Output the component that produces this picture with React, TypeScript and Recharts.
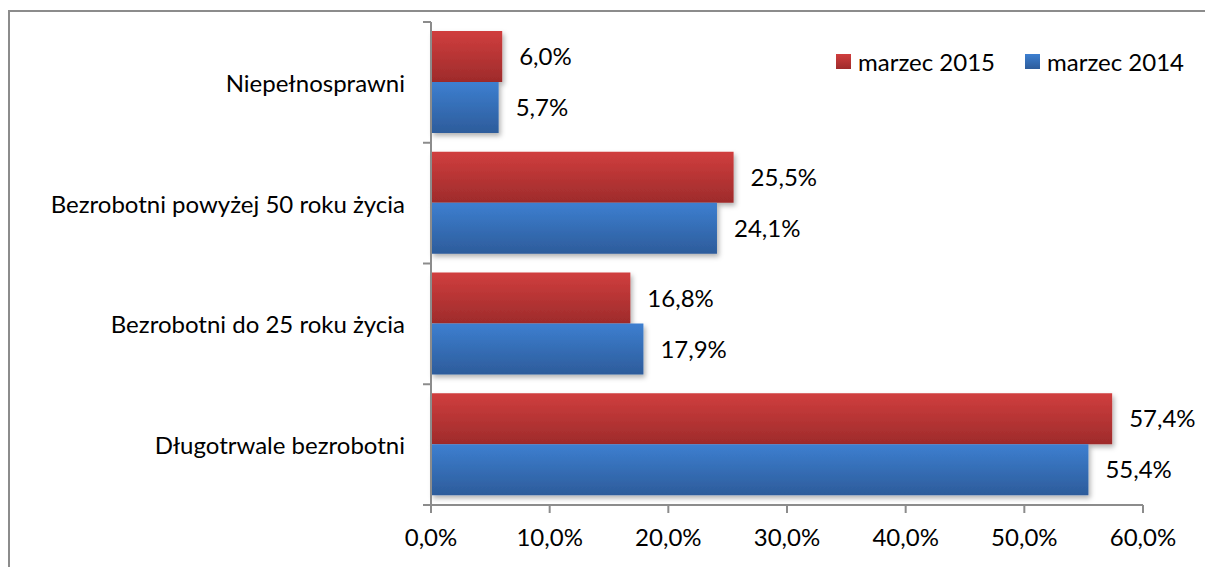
import React from "react";
import {
  BarChart,
  Bar,
  XAxis,
  YAxis,
  LabelList,
  Rectangle,
} from "recharts";

const categories = [
  "Niepełnosprawni",
  "Bezrobotni powyżej 50 roku życia",
  "Bezrobotni do 25 roku życia",
  "Długotrwale bezrobotni",
];
const march2015 = [6.0, 25.5, 16.8, 57.4];
const march2014 = [5.7, 24.1, 17.9, 55.4];
const xTicks = [0, 10, 20, 30, 40, 50, 60];

const seriesNames = ["marzec 2015", "marzec 2014"];

const data = categories.map((name, i) => ({
  name,
  m2015: march2015[i],
  m2014: march2014[i],
}));

const FONT = "Lato, 'Open Sans', sans-serif";
const FS = 24;
const AXIS = "#8c8c8c";
const RED = ["#d03e3e", "#9e2b2b"];
const BLUE = ["#3d7fd0", "#2d5c9b"];

const pct = (v: number) => v.toFixed(1).replace(".", ",") + "%";

function CategoryTick(props: any) {
  const { x, y, payload, index } = props;
  const half = payload && payload.offset ? payload.offset : 60;
  const axisX = x + 26;
  return (
    <g>
      <text
        x={x}
        y={y}
        textAnchor="end"
        dominantBaseline="central"
        fontSize={FS}
        fontFamily={FONT}
        fill="#000"
      >
        {payload.value}
      </text>
      <line x1={axisX - 8} x2={axisX} y1={y - half} y2={y - half} stroke={AXIS} strokeWidth={2} />
      {index === categories.length - 1 && (
        <line x1={axisX - 8} x2={axisX} y1={y + half} y2={y + half} stroke={AXIS} strokeWidth={2} />
      )}
    </g>
  );
}

function ShadowBar(props: any) {
  return <Rectangle {...props} filter="url(#barShadow)" />;
}

function LegendBox() {
  const cols = [RED, BLUE];
  return (
    <div
      style={{
        position: "absolute",
        left: 836,
        top: 47,
        display: "flex",
        alignItems: "center",
        fontFamily: FONT,
        fontSize: FS,
        color: "#000",
        whiteSpace: "nowrap",
      }}
    >
      {seriesNames.map((n, i) => (
        <div key={n} style={{ display: "flex", alignItems: "center", marginRight: i === 0 ? 30 : 0 }}>
          <svg width={15} height={15} style={{ marginRight: 7 }}>
            <defs>
              <linearGradient id={"lg" + i} x1="0" y1="0" x2="0" y2="1">
                <stop offset="0%" stopColor={cols[i][0]} />
                <stop offset="100%" stopColor={cols[i][1]} />
              </linearGradient>
            </defs>
            <rect width={15} height={15} fill={`url(#lg${i})`} />
          </svg>
          <span>{n}</span>
        </div>
      ))}
    </div>
  );
}

export default function App() {
  return (
    <div
      style={{
        position: "absolute",
        left: 0,
        top: 0,
        width: 1205,
        height: 567,
        overflow: "hidden",
        background: "#fff",
      }}
    >
      <div
        style={{
          position: "absolute",
          left: 8,
          top: 10,
          width: 1300,
          height: 700,
          borderLeft: `2px solid ${AXIS}`,
          borderTop: `2px solid ${AXIS}`,
        }}
      />
      <div style={{ position: "absolute", left: 0, top: 0 }}>
        <BarChart
          width={1205}
          height={567}
          data={data}
          layout="vertical"
          margin={{ top: 22, right: 62, bottom: 0, left: 0 }}
          barSize={51}
          barGap={0}
        >
          <defs>
            <linearGradient id="gradRed" x1="0" y1="0" x2="0" y2="1">
              <stop offset="0%" stopColor={RED[0]} />
              <stop offset="100%" stopColor={RED[1]} />
            </linearGradient>
            <linearGradient id="gradBlue" x1="0" y1="0" x2="0" y2="1">
              <stop offset="0%" stopColor={BLUE[0]} />
              <stop offset="100%" stopColor={BLUE[1]} />
            </linearGradient>
            <filter id="barShadow" x="-5%" y="-10%" width="115%" height="130%">
              <feDropShadow dx={2} dy={3} stdDeviation={2.5} floodColor="#000" floodOpacity={0.3} />
            </filter>
          </defs>
          <XAxis
            type="number"
            domain={[0, 60]}
            ticks={xTicks}
            tickFormatter={pct}
            height={62}
            axisLine={{ stroke: AXIS, strokeWidth: 2 }}
            tickLine={{ stroke: AXIS, strokeWidth: 2 }}
            tickSize={8}
            tickMargin={16}
            tick={{ fontSize: FS, fontFamily: FONT, fill: "#000" }}
          />
          <YAxis
            type="category"
            dataKey="name"
            width={431}
            axisLine={{ stroke: AXIS, strokeWidth: 2 }}
            tickLine={false}
            tickSize={0}
            tickMargin={26}
            tick={<CategoryTick />}
            interval={0}
          />
          <Bar
            dataKey="m2015"
            name={seriesNames[0]}
            fill="url(#gradRed)"
            shape={<ShadowBar />}
            isAnimationActive={false}
          >
            <LabelList
              dataKey="m2015"
              position="right"
              offset={17}
              formatter={(v: any) => pct(Number(v))}
              style={{ fontSize: FS, fontFamily: FONT, fill: "#000" }}
            />
          </Bar>
          <Bar
            dataKey="m2014"
            name={seriesNames[1]}
            fill="url(#gradBlue)"
            shape={<ShadowBar />}
            isAnimationActive={false}
          >
            <LabelList
              dataKey="m2014"
              position="right"
              offset={17}
              formatter={(v: any) => pct(Number(v))}
              style={{ fontSize: FS, fontFamily: FONT, fill: "#000" }}
            />
          </Bar>
        </BarChart>
      </div>
      <LegendBox />
    </div>
  );
}
